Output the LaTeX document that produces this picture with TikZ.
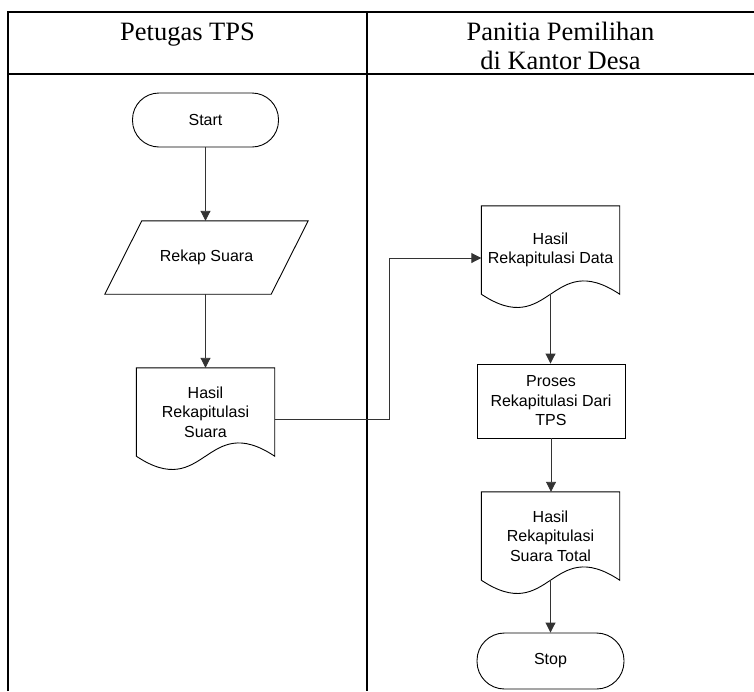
\documentclass[tikz,border=0pt]{standalone}
\usepackage{fontspec}
\setmainfont{Liberation Serif}
\newfontfamily\arialf{Liberation Sans}
\usetikzlibrary{arrows.meta,calc}
\begin{document}
\begin{tikzpicture}[x=1pt,y=-1pt,
  tableline/.style={line width=1.8pt,black,line join=miter},
  headtext/.style={font=\fontsize{26.5}{29}\selectfont,align=center,inner sep=0pt},
  flowtext/.style={font=\arialf\fontsize{16}{19.5}\selectfont,align=center,inner sep=0pt},
  shapeline/.style={line width=0.9pt,black},
  flowline/.style={line width=0.9pt,black!80,-{Triangle[length=10pt,width=10pt]}},
  term/.style={flowtext,shapeline,draw,rounded corners=26.5pt,minimum width=146pt,minimum height=54pt},
  procbox/.style={flowtext,shapeline,draw,minimum width=148pt,minimum height=74pt},
  docbox/.style={flowtext,minimum width=138pt,minimum height=88pt},
  iobox/.style={flowtext,minimum width=166pt,minimum height=73pt}
]
\useasboundingbox (0,0) rectangle (754,691);
% table
\draw[tableline] (8,691) -- (8,12) -- (754,12);
\draw[tableline] (367,12) -- (367,691);
\draw[tableline] (8,74) -- (754,74);
\node[headtext,anchor=base] (h1) at (187.5,40.6) {Petugas TPS};
\node[headtext] (h2) at (560.5,46.4) {Panitia Pemilihan\\di Kantor Desa};

% left lane
\node[term] (start) at (205.5,120) {Start};
\node[iobox] (rekap) at (206.5,257.5) {Rekap Suara};
\draw[shapeline] ($(rekap.north west)+(18.5,0)$) -- ($(rekap.north east)+(18.5,0)$)
  -- ($(rekap.south east)+(-18.5,0)$) -- ($(rekap.south west)+(-18.5,0)$) -- cycle;
\node[docbox] (sdoc) at (205.5,412) {Hasil\\Rekapitulasi\\Suara};
\draw[shapeline] (sdoc.south west) -- (sdoc.north west) -- (sdoc.north east) -- (sdoc.south east)
  .. controls ($(sdoc.south)+(0,-46)$) and ($(sdoc.south)+(0,46)$) .. (sdoc.south west) -- cycle;

% right lane
\node[docbox] (data) at (550.5,250) {Hasil\\Rekapitulasi Data};
\draw[shapeline] (data.south west) -- (data.north west) -- (data.north east) -- (data.south east)
  .. controls ($(data.south)+(0,-46)$) and ($(data.south)+(0,46)$) .. (data.south west) -- cycle;
\node[procbox] (proses) at (551,401) {Proses\\Rekapitulasi Dari\\TPS};
\node[docbox] (total) at (550.5,536) {Hasil\\Rekapitulasi\\Suara Total};
\draw[shapeline] (total.south west) -- (total.north west) -- (total.north east) -- (total.south east)
  .. controls ($(total.south)+(0,-46)$) and ($(total.south)+(0,46)$) .. (total.south west) -- cycle;
\node[term,minimum width=147pt,minimum height=56pt,rounded corners=27.5pt] (stop) at (550.5,661) {Stop};

% connectors
\draw[flowline] (start.south) -- (start.south |- rekap.north);
\draw[flowline] (sdoc.north |- rekap.south) -- (sdoc.north);
\coordinate (elbow) at (389,258);
\draw[flowline] ([yshift=-7pt]sdoc.east) -| (elbow) |- ([yshift=-8pt]data.west);
\draw[flowline] (data.south) -- (data.south |- proses.north);
\draw[flowline] (proses.south) -- (proses.south |- total.north);
\draw[flowline] (total.south) -- (total.south |- stop.north);
\end{tikzpicture}
\end{document}
